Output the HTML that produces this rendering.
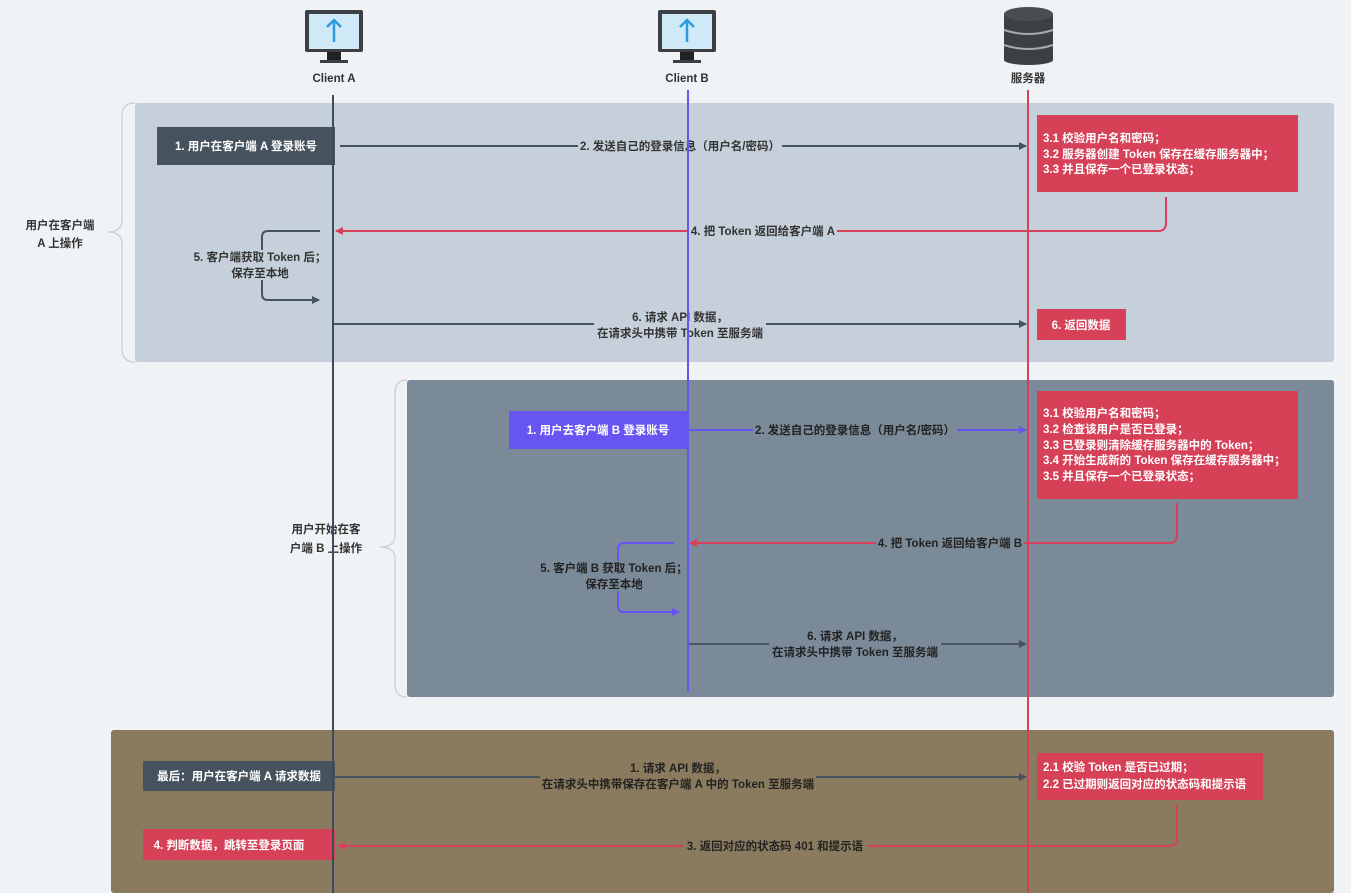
<!DOCTYPE html>
<html><head><meta charset="utf-8"><style>
html,body{margin:0;padding:0;background:#f0f3f6;}
svg{display:block;}
text{font-family:"Liberation Sans","Noto Sans CJK SC",sans-serif;font-weight:bold;font-size:11.5px;}
</style></head><body>
<svg width="1351" height="893" viewBox="0 0 1351 893" xmlns="http://www.w3.org/2000/svg">
<defs>
<marker id="ag" markerWidth="8" markerHeight="8" refX="7" refY="4" orient="auto" markerUnits="userSpaceOnUse"><path d="M0,0 L8,4 L0,8 z" fill="#46535f"/></marker>
<marker id="ar" markerWidth="8" markerHeight="8" refX="7" refY="4" orient="auto" markerUnits="userSpaceOnUse"><path d="M0,0 L8,4 L0,8 z" fill="#d6405a"/></marker>
<marker id="ab" markerWidth="8" markerHeight="8" refX="7" refY="4" orient="auto" markerUnits="userSpaceOnUse"><path d="M0,0 L8,4 L0,8 z" fill="#6655f0"/></marker>
</defs>
<rect width="1351" height="893" fill="#f0f3f6"/>

<!-- icons -->
<g>
<rect x="305" y="10" width="58" height="42" rx="2" fill="#3c3f43"/>
<rect x="309" y="14" width="50" height="35" fill="#cfe9f7"/>
<line x1="334" y1="20" x2="334" y2="42" stroke="#2a9be0" stroke-width="2.5"/>
<path d="M327,27 L334,20 L341,27" fill="none" stroke="#2a9be0" stroke-width="2.5"/>
<rect x="327" y="52" width="14" height="8" fill="#222"/>
<rect x="320" y="60" width="28" height="3" fill="#3c3f43"/>
<text x="334" y="82" text-anchor="middle" fill="#333">Client A</text>
</g>
<g>
<rect x="658" y="10" width="58" height="42" rx="2" fill="#3c3f43"/>
<rect x="662" y="14" width="50" height="35" fill="#cfe9f7"/>
<line x1="687" y1="20" x2="687" y2="42" stroke="#2a9be0" stroke-width="2.5"/>
<path d="M680,27 L687,20 L694,27" fill="none" stroke="#2a9be0" stroke-width="2.5"/>
<rect x="680" y="52" width="14" height="8" fill="#222"/>
<rect x="673" y="60" width="28" height="3" fill="#3c3f43"/>
<text x="687" y="82" text-anchor="middle" fill="#333">Client B</text>
</g>
<g>
<rect x="1004" y="14" width="49" height="46" fill="#3c3f43"/>
<ellipse cx="1028.5" cy="60" rx="24.5" ry="5" fill="#3c3f43"/>
<ellipse cx="1028.5" cy="14" rx="24.5" ry="7" fill="#4a4d51"/>
<path d="M1004,30 Q1028.5,38 1053,30" fill="none" stroke="#aaa" stroke-width="2"/>
<path d="M1004,45 Q1028.5,53 1053,45" fill="none" stroke="#aaa" stroke-width="2"/>
<text x="1028" y="82" text-anchor="middle" fill="#333">服务器</text>
</g>

<!-- panels -->
<rect x="135" y="103" width="1199" height="259" rx="3" fill="#c5d0da"/>
<path d="M135,103 Q122,103 122,116 L122,220 Q122,232 108,232 Q122,232 122,244 L122,349 Q122,362 135,362" fill="none" stroke="#c8cdd2" stroke-width="1.2"/>
<text x="60" y="229" text-anchor="middle" fill="#333" font-size="13">用户在客户端</text>
<text x="60" y="247" text-anchor="middle" fill="#333" font-size="13">A 上操作</text>

<rect x="407" y="380" width="927" height="317" rx="3" fill="#7a8a99"/>
<path d="M407,380 Q395,380 395,393 L395,535 Q395,547 380,547 Q395,547 395,559 L395,684 Q395,697 407,697" fill="none" stroke="#c8cdd2" stroke-width="1.2"/>
<text x="326" y="533" text-anchor="middle" fill="#333" font-size="13">用户开始在客</text>
<text x="326" y="552" text-anchor="middle" fill="#333" font-size="13">户端 B 上操作</text>

<rect x="111" y="730" width="1223" height="163" rx="3" fill="#8a7b5e"/>

<!-- panel 1 -->
<rect x="157" y="127" width="178" height="38" fill="#46535f"/>
<text x="246" y="150" text-anchor="middle" fill="#fff">1. 用户在客户端 A 登录账号</text>
<line x1="340" y1="146" x2="1026" y2="146" stroke="#46535f" stroke-width="2" marker-end="url(#ag)"/>
<rect x="578" y="137" width="204" height="16" fill="#c5d0da"/>
<text x="680" y="150" text-anchor="middle" fill="#333">2. 发送自己的登录信息（用户名/密码）</text>
<rect x="1037" y="115" width="261" height="77" fill="#d64158"/>
<text x="1043" y="142" fill="#fff">3.1 校验用户名和密码；</text>
<text x="1043" y="158" fill="#fff">3.2 服务器创建 Token 保存在缓存服务器中；</text>
<text x="1043" y="173" fill="#fff">3.3 并且保存一个已登录状态；</text>
<path d="M1166,197 L1166,223 Q1166,231 1158,231 L336,231" fill="none" stroke="#d6405a" stroke-width="2" marker-end="url(#ar)"/>
<rect x="689" y="223" width="148" height="16" fill="#c5d0da"/>
<text x="763" y="235" text-anchor="middle" fill="#333">4. 把 Token 返回给客户端 A</text>
<path d="M320,231 L268,231 Q262,231 262,237 L262,294 Q262,300 268,300 L319,300" fill="none" stroke="#46535f" stroke-width="2" marker-end="url(#ag)"/>
<rect x="195" y="250" width="132" height="30" fill="#c5d0da"/>
<text x="260" y="261" text-anchor="middle" fill="#333">5. 客户端获取 Token 后；</text>
<text x="260" y="277" text-anchor="middle" fill="#333">保存至本地</text>
<line x1="334" y1="324" x2="1026" y2="324" stroke="#46535f" stroke-width="2" marker-end="url(#ag)"/>
<rect x="594" y="311" width="172" height="28" fill="#c5d0da"/>
<text x="680" y="321" text-anchor="middle" fill="#333">6. 请求 API 数据，</text>
<text x="680" y="337" text-anchor="middle" fill="#333">在请求头中携带 Token 至服务端</text>
<rect x="1037" y="309" width="89" height="31" fill="#d64158"/>
<text x="1081" y="329" text-anchor="middle" fill="#fff">6. 返回数据</text>

<!-- panel 2 -->
<rect x="509" y="411" width="178" height="38" fill="#6655f0"/>
<text x="598" y="434" text-anchor="middle" fill="#fff">1. 用户去客户端 B 登录账号</text>
<line x1="689" y1="430" x2="1026" y2="430" stroke="#6655f0" stroke-width="2" marker-end="url(#ab)"/>
<rect x="753" y="422" width="204" height="16" fill="#7a8a99"/>
<text x="855" y="434" text-anchor="middle" fill="#222">2. 发送自己的登录信息（用户名/密码）</text>
<rect x="1037" y="391" width="261" height="108" fill="#d64158"/>
<text x="1043" y="417" fill="#fff">3.1 校验用户名和密码；</text>
<text x="1043" y="433" fill="#fff">3.2 检查该用户是否已登录；</text>
<text x="1043" y="449" fill="#fff">3.3 已登录则清除缓存服务器中的 Token；</text>
<text x="1043" y="464" fill="#fff">3.4 开始生成新的 Token 保存在缓存服务器中；</text>
<text x="1043" y="480" fill="#fff">3.5 并且保存一个已登录状态；</text>
<path d="M1177,503 L1177,535 Q1177,543 1169,543 L690,543" fill="none" stroke="#d6405a" stroke-width="2" marker-end="url(#ar)"/>
<rect x="876" y="535" width="148" height="16" fill="#7a8a99"/>
<text x="950" y="547" text-anchor="middle" fill="#222">4. 把 Token 返回给客户端 B</text>
<path d="M674,543 L624,543 Q618,543 618,549 L618,606 Q618,612 624,612 L679,612" fill="none" stroke="#6655f0" stroke-width="2" marker-end="url(#ab)"/>
<rect x="543" y="561" width="146" height="30" fill="#7a8a99"/>
<text x="614" y="572" text-anchor="middle" fill="#222">5. 客户端 B 获取 Token 后；</text>
<text x="614" y="588" text-anchor="middle" fill="#222">保存至本地</text>
<line x1="689" y1="644" x2="1026" y2="644" stroke="#4a5866" stroke-width="2" marker-end="url(#ag)"/>
<rect x="769" y="630" width="172" height="28" fill="#7a8a99"/>
<text x="855" y="640" text-anchor="middle" fill="#222">6. 请求 API 数据，</text>
<text x="855" y="656" text-anchor="middle" fill="#222">在请求头中携带 Token 至服务端</text>

<!-- panel 3 -->
<rect x="143" y="761" width="192" height="30" fill="#46535f"/>
<text x="239" y="780" text-anchor="middle" fill="#fff">最后：用户在客户端 A 请求数据</text>
<line x1="335" y1="777" x2="1026" y2="777" stroke="#46535f" stroke-width="2" marker-end="url(#ag)"/>
<rect x="540" y="763" width="276" height="28" fill="#8a7b5e"/>
<text x="678" y="772" text-anchor="middle" fill="#222">1. 请求 API 数据，</text>
<text x="678" y="788" text-anchor="middle" fill="#222">在请求头中携带保存在客户端 A 中的 Token 至服务端</text>
<rect x="1037" y="753" width="226" height="47" fill="#d64158"/>
<text x="1043" y="771" fill="#fff">2.1 校验 Token 是否已过期；</text>
<text x="1043" y="788" fill="#fff">2.2 已过期则返回对应的状态码和提示语</text>
<path d="M1177,804 L1177,838 Q1177,846 1169,846 L338,846" fill="none" stroke="#d6405a" stroke-width="2" marker-end="url(#ar)"/>
<rect x="683" y="838" width="184" height="16" fill="#8a7b5e"/>
<text x="775" y="850" text-anchor="middle" fill="#222">3. 返回对应的状态码 401 和提示语</text>
<rect x="143" y="829" width="192" height="31" fill="#d64158"/>
<text x="229" y="849" text-anchor="middle" fill="#fff">4. 判断数据，跳转至登录页面</text>

<!-- lifelines on top -->
<line x1="333" y1="95" x2="333" y2="893" stroke="#3d4b5a" stroke-width="2"/>
<line x1="688" y1="90" x2="688" y2="692" stroke="#6655f0" stroke-width="2"/>
<line x1="1028" y1="90" x2="1028" y2="893" stroke="#d6405a" stroke-width="2"/>
</svg>
</body></html>
